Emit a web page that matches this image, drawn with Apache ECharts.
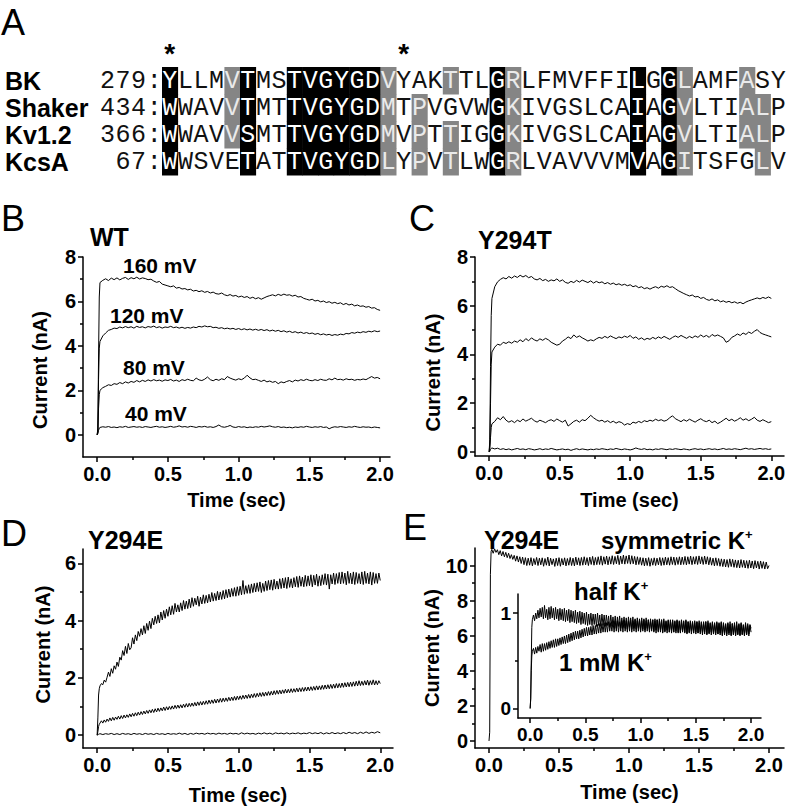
<!DOCTYPE html>
<html><head><meta charset="utf-8">
<script src="https://cdn.jsdelivr.net/npm/echarts@6/dist/echarts.min.js"></script>
<style>html,body{margin:0;padding:0;background:#fff}#c{width:796px;height:806px}</style>
</head><body><div id="c"></div>
<script>
// ---------- Panel A: alignment ----------
const seqNames = ['BK', 'Shaker', 'Kv1.2', 'KcsA'];
const seqStarts = ['279', '434', '366', ' 67'];
const seqs = [
  'YLLMVTMSTVGYGDVYAKTTLGRLFMVFFILGGLAMFASY',
  'WWAVVTMTTVGYGDMTPVGVWGKIVGSLCAIAGVLTIALP',
  'WWAVVSMTTVGYGDMVPTTIGGKIVGSLCAIAGVLTIALP',
  'WWSVETATTVGYGDLYPVTLWGRLVAVVVMVAGITSFGLV'
];
// K = identical (black), G = similar (gray), . = none
const shades = [
  'K...GK..KK' + 'KKKKG...G.' + '.KG.......' + 'K.KG...G..',
  'K...GK..KK' + 'KKKKG.G...' + '.KG.......' + 'K.KG...GG.',
  'K...GK..KK' + 'KKKKG.G.G.' + '.KG.......' + 'K.KG...GG.',
  'K....K..KK' + 'KKKKG.G.G.' + '.KG.......' + 'K.KG....G.'
];
const starCols = [0, 15];

// ---------- Traces ----------
// coarse sampling (s)
const time = [0,0.005,0.01,0.015,0.02,0.04,0.06,0.08,0.1,0.12,
0.14,0.16,0.18,0.2,0.22,0.24,0.26,0.28,0.3,0.32,
0.34,0.36,0.38,0.4,0.42,0.44,0.46,0.48,0.5,0.52,
0.54,0.56,0.58,0.6,0.62,0.64,0.66,0.68,0.7,0.72,
0.74,0.76,0.78,0.8,0.82,0.84,0.86,0.88,0.9,0.92,
0.94,0.96,0.98,1,1.02,1.04,1.06,1.08,1.1,1.12,
1.14,1.16,1.18,1.2,1.22,1.24,1.26,1.28,1.3,1.32,
1.34,1.36,1.38,1.4,1.42,1.44,1.46,1.48,1.5,1.52,
1.54,1.56,1.58,1.6,1.62,1.64,1.66,1.68,1.7,1.72,
1.74,1.76,1.78,1.8,1.82,1.84,1.86,1.88,1.9,1.92,
1.94,1.96,1.98,2];
// dense sampling (s) for the noisy Y294E recordings
const timeDense = [0,0.005,0.01,0.015,0.02,0.03,0.04,0.05,0.06,0.07,
0.08,0.09,0.1,0.11,0.12,0.13,0.14,0.15,0.16,0.17,
0.18,0.19,0.2,0.21,0.22,0.23,0.24,0.25,0.26,0.27,
0.28,0.29,0.3,0.31,0.32,0.33,0.34,0.35,0.36,0.37,
0.38,0.39,0.4,0.41,0.42,0.43,0.44,0.45,0.46,0.47,
0.48,0.49,0.5,0.51,0.52,0.53,0.54,0.55,0.56,0.57,
0.58,0.59,0.6,0.61,0.62,0.63,0.64,0.65,0.66,0.67,
0.68,0.69,0.7,0.71,0.72,0.73,0.74,0.75,0.76,0.77,
0.78,0.79,0.8,0.81,0.82,0.83,0.84,0.85,0.86,0.87,
0.88,0.89,0.9,0.91,0.92,0.93,0.94,0.95,0.96,0.97,
0.98,0.99,1,1.01,1.02,1.03,1.04,1.05,1.06,1.07,
1.08,1.09,1.1,1.11,1.12,1.13,1.14,1.15,1.16,1.17,
1.18,1.19,1.2,1.21,1.22,1.23,1.24,1.25,1.26,1.27,
1.28,1.29,1.3,1.31,1.32,1.33,1.34,1.35,1.36,1.37,
1.38,1.39,1.4,1.41,1.42,1.43,1.44,1.45,1.46,1.47,
1.48,1.49,1.5,1.51,1.52,1.53,1.54,1.55,1.56,1.57,
1.58,1.59,1.6,1.61,1.62,1.63,1.64,1.65,1.66,1.67,
1.68,1.69,1.7,1.71,1.72,1.73,1.74,1.75,1.76,1.77,
1.78,1.79,1.8,1.81,1.82,1.83,1.84,1.85,1.86,1.87,
1.88,1.89,1.9,1.91,1.92,1.93,1.94,1.95,1.96,1.97,
1.98,1.99,2];

// B: WT (nA)
const wt160 = [0,0.3,3.5,6.2,6.85,6.95,7.02,6.94,7.05,6.98,
7.06,6.97,7.04,7.08,6.99,7.07,7.02,7.09,7.01,7.06,
7.03,6.98,7.0,6.92,6.86,6.9,6.78,6.74,6.7,6.66,
6.7,6.6,6.63,6.56,6.58,6.52,6.55,6.47,6.5,6.44,
6.48,6.41,6.45,6.38,6.42,6.35,6.33,6.38,6.3,6.26,
6.31,6.24,6.27,6.2,6.24,6.18,6.22,6.14,6.19,6.12,
6.17,6.1,6.16,6.22,6.26,6.3,6.25,6.32,6.27,6.33,
6.28,6.3,6.24,6.28,6.2,6.22,6.14,6.1,6.06,6.1,
6.02,6.05,5.98,6.02,5.95,5.99,5.92,5.96,5.9,5.94,
5.86,5.91,5.84,5.88,5.8,5.84,5.78,5.8,5.74,5.77,
5.7,5.72,5.64,5.6];
const wt120 = [0,0.2,2.5,3.9,4.2,4.45,4.58,4.7,4.74,4.8,
4.78,4.85,4.81,4.87,4.82,4.86,4.8,4.88,4.83,4.86,
4.81,4.87,4.84,4.89,4.82,4.86,4.8,4.85,4.83,4.88,
4.82,4.85,4.8,4.84,4.79,4.83,4.8,4.85,4.82,4.88,
4.85,4.9,4.86,4.88,4.82,4.84,4.79,4.82,4.77,4.8,
4.76,4.79,4.74,4.78,4.73,4.77,4.72,4.76,4.71,4.75,
4.7,4.74,4.69,4.73,4.67,4.71,4.66,4.7,4.64,4.68,
4.62,4.66,4.6,4.64,4.58,4.62,4.56,4.6,4.55,4.58,
4.52,4.56,4.5,4.54,4.49,4.52,4.47,4.51,4.48,4.53,
4.5,4.56,4.54,4.6,4.57,4.62,4.59,4.64,4.61,4.66,
4.63,4.68,4.64,4.67];
const wt80 = [0,0.1,1.2,1.8,2.0,2.12,2.18,2.25,2.22,2.3,
2.27,2.35,2.3,2.38,2.33,2.4,2.36,2.44,2.38,2.45,
2.4,2.47,2.42,2.48,2.43,2.46,2.41,2.47,2.44,2.49,
2.42,2.46,2.4,2.48,2.44,2.5,2.45,2.43,2.55,2.47,
2.44,2.5,2.6,2.48,2.43,2.5,2.45,2.52,2.48,2.62,
2.55,2.5,2.46,2.52,2.48,2.55,2.68,2.56,2.48,2.5,
2.45,2.4,2.46,2.38,2.42,2.36,2.4,2.3,2.38,2.34,
2.4,2.44,2.38,2.46,2.42,2.48,2.44,2.5,2.45,2.43,
2.48,2.44,2.5,2.46,2.45,2.52,2.47,2.55,2.48,2.5,
2.46,2.52,2.48,2.5,2.45,2.49,2.47,2.51,2.48,2.55,
2.62,2.55,2.58,2.52];
const wt40 = [0,0.05,0.2,0.3,0.33,0.36,0.34,0.37,0.33,0.35,
0.32,0.36,0.34,0.38,0.33,0.35,0.37,0.34,0.36,0.33,
0.37,0.35,0.33,0.36,0.38,0.34,0.36,0.33,0.35,0.38,
0.34,0.36,0.4,0.35,0.37,0.34,0.38,0.36,0.33,0.37,
0.35,0.38,0.34,0.36,0.33,0.37,0.44,0.36,0.34,0.37,
0.42,0.35,0.33,0.37,0.34,0.36,0.32,0.35,0.33,0.36,
0.34,0.38,0.35,0.37,0.4,0.36,0.34,0.37,0.33,0.35,
0.32,0.34,0.31,0.35,0.33,0.36,0.34,0.38,0.35,0.33,
0.36,0.34,0.37,0.33,0.35,0.27,0.33,0.36,0.34,0.37,
0.35,0.33,0.36,0.34,0.38,0.35,0.33,0.36,0.34,0.35,
0.32,0.35,0.33,0.31];

// C: Y294T (nA)
const t294a = [0,0.5,3.5,5.6,6.3,6.78,6.98,7.08,7.15,7.1,
7.2,7.13,7.22,7.16,7.25,7.18,7.24,7.15,7.2,7.1,
7.06,7.12,7.03,7.08,7.0,7.06,7.02,7.1,7.0,7.06,
6.96,6.92,7.0,6.95,7.04,6.97,7.05,7.0,6.95,7.02,
6.93,7.0,6.94,6.98,6.9,6.95,6.88,6.93,6.86,6.9,
6.84,6.88,6.82,6.86,6.78,6.82,6.74,6.78,6.7,6.74,
6.68,6.74,6.78,6.72,6.8,6.76,6.82,6.75,6.78,6.7,
6.62,6.56,6.5,6.45,6.4,6.44,6.36,6.38,6.3,6.34,
6.26,6.22,6.28,6.2,6.24,6.16,6.2,6.14,6.18,6.12,
6.16,6.1,6.14,6.08,6.15,6.2,6.24,6.28,6.32,6.28,
6.34,6.3,6.36,6.3];
const t294b = [0,0.3,2.0,3.6,4.1,4.3,4.42,4.38,4.5,4.45,
4.52,4.46,4.55,4.5,4.6,4.52,4.65,4.56,4.68,4.6,
4.55,4.64,4.58,4.66,4.6,4.5,4.44,4.38,4.42,4.55,
4.62,4.72,4.65,4.8,4.7,4.76,4.68,4.62,4.55,4.6,
4.56,4.64,4.7,4.66,4.74,4.68,4.76,4.7,4.65,4.72,
4.68,4.75,4.7,4.78,4.66,4.72,4.62,4.68,4.6,4.66,
4.62,4.7,4.64,4.72,4.66,4.74,4.68,4.62,4.7,4.76,
4.7,4.78,4.72,4.66,4.74,4.68,4.76,4.7,4.8,4.72,
4.78,4.7,4.82,4.75,4.8,4.74,4.68,4.5,4.56,4.7,
4.76,4.84,4.78,4.88,4.82,4.92,4.86,4.95,5.02,4.9,
4.84,4.8,4.76,4.72];
const t294c = [0,0.1,0.6,1.0,1.15,1.25,1.4,1.32,1.45,1.3,
1.22,1.28,1.2,1.3,1.24,1.35,1.26,1.32,1.38,1.28,
1.22,1.3,1.25,1.2,1.28,1.32,1.25,1.35,1.28,1.22,
1.3,1.06,1.15,1.25,1.3,1.22,1.32,1.28,1.38,1.5,
1.4,1.32,1.26,1.3,1.22,1.28,1.2,1.26,1.18,1.24,
1.2,1.1,1.16,1.12,1.22,1.18,1.25,1.2,1.28,1.24,
1.3,1.26,1.34,1.28,1.32,1.26,1.3,1.4,1.48,1.36,
1.3,1.24,1.32,1.26,1.34,1.28,1.22,1.3,1.36,1.28,
1.24,1.3,1.2,1.26,1.16,1.22,1.3,1.38,1.28,1.34,
1.26,1.32,1.4,1.3,1.36,1.28,1.34,1.42,1.3,1.25,
1.32,1.26,1.2,1.24];
const t294d = [0,0.02,0.1,0.14,0.16,0.12,0.15,0.1,0.13,0.09,
0.12,0.08,0.11,0.14,0.1,0.12,0.09,0.13,0.11,0.08,
0.1,0.13,0.09,0.12,0.1,0.14,0.11,0.08,0.1,0.12,
0.09,0.11,0.06,0.1,0.13,0.09,0.12,0.1,0.08,0.11,
0.09,0.12,0.1,0.13,0.11,0.09,0.12,0.1,0.14,0.11,
0.09,0.12,0.1,0.08,0.11,0.16,0.12,0.1,0.13,0.09,
0.11,0.08,0.12,0.1,0.13,0.11,0.09,0.12,0.1,0.13,
0.11,0.09,0.12,0.1,0.08,0.11,0.13,0.1,0.12,0.09,
0.11,0.13,0.1,0.12,0.09,0.11,0.14,0.1,0.12,0.1,
0.13,0.11,0.09,0.12,0.15,0.11,0.13,0.1,0.12,0.14,
0.11,0.13,0.1,0.12];

// D: Y294E (nA) – dense traces use timeDense
const e294a = [0,0.6,1.4,1.62,1.72,1.8,1.76,1.92,1.85,2.02,
2.2,2.05,2.32,2.16,2.42,2.3,2.55,2.4,2.72,2.62,
2.95,2.78,3.1,2.85,3.2,2.98,3.05,3.4,3.18,3.5,
3.3,3.62,3.45,3.72,3.5,3.82,3.55,3.9,3.66,3.98,
3.72,4.08,3.85,4.15,3.9,4.2,3.92,4.3,4.02,4.35,
4.08,4.4,4.15,4.48,4.2,4.52,4.22,4.6,4.3,4.55,
4.3,4.62,4.35,4.7,4.4,4.68,4.42,4.75,4.45,4.8,
4.5,4.78,4.55,4.85,4.5,4.82,4.58,4.9,4.6,4.88,
4.62,4.92,4.65,4.98,4.68,4.95,4.7,5.02,4.72,5.0,
4.74,5.05,4.76,5.08,4.8,5.1,4.82,5.12,4.85,5.15,
4.85,5.18,4.88,5.2,4.9,5.4,4.92,5.22,4.95,5.25,
4.95,5.28,4.98,5.3,5.0,5.32,5.02,5.35,4.98,5.3,
5.02,5.38,5.05,5.4,5.08,5.42,5.06,5.44,5.1,5.38,
5.1,5.46,5.12,5.48,5.14,5.5,5.12,5.52,5.16,5.46,
5.14,5.5,5.18,5.54,5.16,5.56,5.2,5.52,5.18,5.58,
5.2,5.56,5.22,5.6,5.18,5.58,5.24,5.62,5.2,5.56,
5.22,5.6,5.26,5.64,5.24,5.62,5.1,5.6,5.28,5.66,
5.26,5.64,5.3,5.68,5.28,5.7,5.3,5.66,5.25,5.72,
5.3,5.66,5.28,5.7,5.26,5.68,5.3,5.64,5.28,5.7,
5.26,5.72,5.3,5.66,5.28,5.7,5.24,5.68,5.3,5.64,
5.3,5.66,5.4];
const e294b = [0,0.12,0.3,0.38,0.42,0.5,0.42,0.53,0.45,0.56,
0.48,0.6,0.5,0.62,0.52,0.63,0.55,0.66,0.56,0.68,
0.58,0.7,0.6,0.71,0.62,0.74,0.64,0.76,0.66,0.78,
0.68,0.8,0.7,0.82,0.72,0.84,0.74,0.86,0.76,0.88,
0.78,0.9,0.79,0.92,0.81,0.94,0.83,0.95,0.85,0.98,
0.86,0.99,0.88,1.0,0.9,1.02,0.91,1.04,0.93,1.05,
0.94,1.06,0.95,1.08,0.97,1.1,0.98,1.11,1.0,1.12,
1.01,1.14,1.02,1.16,1.04,1.17,1.05,1.18,1.07,1.2,
1.08,1.22,1.1,1.23,1.11,1.25,1.12,1.26,1.14,1.28,
1.15,1.29,1.17,1.3,1.18,1.32,1.2,1.33,1.21,1.35,
1.22,1.36,1.24,1.37,1.25,1.39,1.27,1.4,1.28,1.42,
1.29,1.43,1.31,1.45,1.32,1.46,1.34,1.48,1.35,1.49,
1.36,1.5,1.38,1.52,1.39,1.53,1.4,1.55,1.42,1.56,
1.43,1.57,1.44,1.58,1.46,1.6,1.47,1.6,1.48,1.62,
1.49,1.62,1.5,1.64,1.51,1.65,1.52,1.66,1.53,1.67,
1.54,1.68,1.55,1.69,1.56,1.7,1.57,1.72,1.58,1.72,
1.59,1.74,1.6,1.75,1.61,1.76,1.62,1.77,1.63,1.78,
1.64,1.8,1.65,1.8,1.66,1.82,1.67,1.83,1.68,1.84,
1.69,1.85,1.7,1.86,1.71,1.88,1.72,1.9,1.73,1.88,
1.74,1.9,1.75,1.92,1.74,1.9,1.76,1.93,1.75,1.9,
1.76,1.9,1.8];
const e294c = [0,0.01,0.03,0.04,0.05,0.02,0.05,0.03,0.06,0.02,
0.05,0.02,0.06,0.03,0.05,0.02,0.06,0.03,0.05,0.02,
0.06,0.03,0.05,0.02,0.06,0.03,0.05,0.02,0.06,0.03,
0.05,0.03,0.07,0.03,0.06,0.02,0.06,0.03,0.07,0.04,
0.06,0.03,0.07,0.04,0.06,0.03,0.07,0.04,0.06,0.03,
0.07,0.04,0.06,0.03,0.08,0.04,0.07,0.04,0.06,0.03,
0.07,0.04,0.08,0.04,0.07,0.03,0.08,0.05,0.07,0.04,
0.08,0.04,0.07,0.05,0.08,0.04,0.07,0.05,0.09,0.05,
0.08,0.05,0.09,0.04,0.08,0.05,0.09,0.05,0.08,0.05,
0.09,0.05,0.1,0.06,0.09,0.05,0.1,0.06,0.11,0.06,
0.1,0.07,0.12,0.08];

// E: Y294E symmetric K+ (nA, dense) and inset half / 1 mM K+ (normalized, dense)
const symK = [0,0.5,9.5,10.8,10.92,10.7,10.95,10.75,10.9,10.62,
10.85,10.55,10.8,10.5,10.75,10.45,10.7,10.4,10.62,10.35,
10.58,10.25,10.55,10.2,10.5,10.12,10.48,10.05,10.45,10.0,
10.42,10.02,10.45,9.98,10.4,10.05,10.46,10.0,10.42,10.04,
10.44,9.96,10.4,10.02,10.48,9.98,10.42,10.05,10.38,9.95,
10.42,10.0,10.45,9.96,10.4,10.03,10.44,9.98,10.4,10.02,
10.46,10.0,10.42,9.98,10.48,10.04,10.44,10.0,10.46,10.02,
10.5,10.04,10.45,10.0,10.48,10.06,10.52,10.02,10.46,10.05,
10.5,10.06,10.55,10.02,10.5,10.08,10.54,10.04,10.5,10.08,
10.56,10.06,10.52,10.1,10.58,10.05,10.54,10.1,10.6,10.08,
10.55,10.12,10.6,10.08,10.56,10.1,10.52,10.04,10.5,10.06,
10.46,10.02,10.44,9.98,10.42,10.0,10.45,9.96,10.4,10.02,
10.44,10.0,10.42,10.04,10.46,10.0,10.44,10.02,10.48,10.04,
10.45,10.02,10.5,10.06,10.48,10.02,10.46,10.06,10.5,10.04,
10.48,10.06,10.52,10.04,10.5,10.08,10.54,10.05,10.5,10.08,
10.52,10.06,10.55,10.1,10.5,10.06,10.54,10.08,10.5,10.04,
10.46,10.02,10.42,9.98,10.44,10.0,10.4,9.96,10.38,9.94,
10.36,9.92,10.34,9.9,10.38,9.94,10.35,9.9,10.32,9.88,
10.3,9.86,10.34,9.9,10.3,9.86,10.28,9.84,10.3,9.86,
10.26,9.82,10.28,9.86,10.24,9.8,10.26,9.84,10.22,9.8,
10.2,9.82,10.0];
const halfK = [0,0.1,0.5,0.85,0.93,0.98,0.92,1.0,0.94,1.03,
0.95,1.05,0.96,1.06,0.94,1.08,0.95,1.04,0.93,1.06,
0.94,1.07,0.95,1.05,0.93,1.06,0.94,1.04,0.92,1.05,
0.93,1.04,0.92,1.05,0.91,1.03,0.92,1.04,0.9,1.03,
0.91,1.02,0.9,1.03,0.89,1.01,0.9,1.02,0.88,1.01,
0.89,1.0,0.88,1.01,0.87,0.99,0.88,1.0,0.87,0.99,
0.88,0.99,0.86,1.0,0.87,0.98,0.86,0.99,0.87,0.98,
0.86,0.98,0.87,0.97,0.85,0.98,0.86,0.96,0.85,0.97,
0.84,0.96,0.86,0.97,0.84,0.95,0.85,0.96,0.84,0.95,
0.83,0.96,0.85,0.95,0.83,0.96,0.84,0.94,0.83,0.95,
0.84,0.94,0.82,0.95,0.83,0.94,0.82,0.95,0.84,0.93,
0.82,0.94,0.83,0.93,0.81,0.94,0.82,0.93,0.81,0.94,
0.82,0.93,0.8,0.94,0.81,0.92,0.82,0.93,0.8,0.92,
0.81,0.93,0.8,0.92,0.81,0.93,0.79,0.92,0.8,0.93,
0.81,0.92,0.8,0.93,0.79,0.91,0.8,0.92,0.81,0.91,
0.79,0.92,0.8,0.91,0.79,0.92,0.8,0.9,0.79,0.91,
0.8,0.91,0.78,0.92,0.79,0.9,0.8,0.91,0.78,0.9,
0.79,0.91,0.78,0.9,0.79,0.91,0.77,0.9,0.79,0.89,
0.78,0.9,0.79,0.91,0.77,0.89,0.78,0.9,0.77,0.91,
0.78,0.89,0.77,0.9,0.78,0.88,0.77,0.9,0.78,0.89,
0.78,0.88,0.84];
const oneMK = [0,0.1,0.4,0.55,0.6,0.63,0.57,0.64,0.58,0.65,
0.6,0.67,0.59,0.68,0.6,0.68,0.61,0.69,0.62,0.7,
0.63,0.71,0.64,0.72,0.64,0.73,0.65,0.73,0.66,0.74,
0.67,0.75,0.68,0.76,0.68,0.77,0.69,0.78,0.7,0.79,
0.71,0.8,0.72,0.81,0.73,0.81,0.73,0.82,0.74,0.83,
0.75,0.84,0.76,0.85,0.76,0.85,0.77,0.86,0.77,0.87,
0.78,0.87,0.78,0.88,0.79,0.89,0.79,0.89,0.8,0.9,
0.8,0.9,0.8,0.91,0.81,0.9,0.81,0.91,0.8,0.92,
0.81,0.92,0.8,0.91,0.81,0.92,0.8,0.93,0.81,0.92,
0.8,0.92,0.81,0.93,0.8,0.92,0.81,0.93,0.8,0.92,
0.81,0.93,0.8,0.92,0.81,0.93,0.8,0.92,0.81,0.93,
0.8,0.92,0.81,0.93,0.8,0.92,0.79,0.93,0.8,0.92,
0.8,0.93,0.79,0.92,0.8,0.91,0.79,0.92,0.8,0.93,
0.79,0.92,0.8,0.91,0.79,0.92,0.8,0.91,0.79,0.92,
0.8,0.91,0.79,0.92,0.78,0.91,0.79,0.9,0.78,0.91,
0.79,0.9,0.78,0.91,0.79,0.9,0.78,0.91,0.77,0.9,
0.78,0.91,0.77,0.9,0.78,0.89,0.77,0.9,0.78,0.89,
0.77,0.9,0.78,0.89,0.77,0.9,0.76,0.89,0.77,0.88,
0.76,0.89,0.77,0.88,0.76,0.89,0.77,0.88,0.76,0.87,
0.77,0.88,0.76,0.89,0.77,0.87,0.76,0.88,0.77,0.87,
0.76,0.87,0.8];

const xTicks = [0, 0.5, 1, 1.5, 2];
const xMinorTicks = [0.25, 0.75, 1.25, 1.75];

// ---------- Build ----------
const SANS = '"Liberation Sans", Arial, Helvetica, sans-serif';
const MONO = '"Liberation Mono", "Courier New", monospace';

const cellPos = [], cellChar = [], cellShade = [];
seqs.forEach((s, r) => {
  for (let c = 0; c < s.length; c++) {
    cellPos.push([c, r]); cellChar.push(s[c]); cellShade.push(shades[r][c]);
  }
});

const panels = [
  {grid:{left:83, top:257, width:307, height:200}, x:[-0.1, 2.07], y:[-1, 8],
   yMaj:[0,2,4,6,8], yMin:[1,3,5,7], fs:20, xGap:33, yGap:33, yPad:[0,26,0,0],
   series:[[time, wt160], [time, wt120], [time, wt80], [time, wt40]], lw:1},
  {grid:{left:475, top:257, width:309, height:199}, x:[-0.1, 2.09], y:[-0.17, 8],
   yMaj:[0,2,4,6,8], yMin:[1,3,5,7], fs:20, xGap:34, yGap:32, yPad:[0,32,0,0],
   series:[[time, t294a], [time, t294b], [time, t294c], [time, t294d]], lw:1},
  {grid:{left:83, top:549, width:310, height:199}, x:[-0.1, 2.09], y:[-0.45, 6.5],
   yMaj:[0,2,4,6], yMin:[1,3,5], fs:20, xGap:37, yGap:30, yPad:[0,0,0,8],
   series:[[timeDense, e294a], [timeDense, e294b], [time, e294c]], lw:1},
  {grid:{left:475, top:548, width:309, height:200}, x:[-0.1, 2.107], y:[-0.4, 11],
   yMaj:[0,2,4,6,8,10], yMin:[1,3,5,7,9], fs:20, xGap:34, yGap:28, yPad:[0,0,0,0],
   series:[[timeDense, symK]], lw:1},
  {grid:{left:518, top:594, width:243, height:124}, x:[-0.11, 2.09], y:[-0.1, 1.2],
   yMaj:[0,1], yMin:[0.5], fs:19, xGap:0, yGap:0, yPad:null,
   series:[[timeDense, halfK], [timeDense, oneMK]], lw:1}
];

const grids = [{left:162, top:67, width:624, height:108}];
const xAxes = [{type:'value', gridIndex:0, min:0, max:40, show:false}];
const yAxes = [{type:'value', gridIndex:0, min:0, max:4, inverse:true, show:false}];
const series = [];
const line = {color:'#000', width:1.5};

panels.forEach((p, i) => {
  const gi = i + 1;
  grids.push(Object.assign({outerBoundsMode:'none', containLabel:false}, p.grid));
  const named = p.yPad !== null;
  xAxes.push({type:'value', gridIndex:gi, min:p.x[0], max:p.x[1], position:'bottom',
    axisLine:{show:true, onZero:false, lineStyle:line},
    axisTick:{show:true, customValues:xTicks, length:5, lineStyle:line},
    axisLabel:{show:true, customValues:xTicks, formatter:v => v.toFixed(1), color:'#000',
      fontSize:p.fs, fontWeight:'bold', fontFamily:SANS, margin:7},
    splitLine:{show:false},
    name: named ? 'Time (sec)' : '', nameLocation:'middle', nameGap:p.xGap,
    nameTextStyle:{color:'#000', fontSize:20, fontWeight:'bold', fontFamily:SANS}});
  const xMainIdx = xAxes.length - 1;
  xAxes.push({type:'value', gridIndex:gi, min:p.x[0], max:p.x[1], position:'bottom',
    axisLine:{show:false, onZero:false}, axisTick:{show:true, customValues:xMinorTicks, length:3, lineStyle:line},
    axisLabel:{show:false}, splitLine:{show:false}});
  yAxes.push({type:'value', gridIndex:gi, min:p.y[0], max:p.y[1], position:'left',
    axisLine:{show:true, onZero:false, lineStyle:line},
    axisTick:{show:true, customValues:p.yMaj, length:5, lineStyle:line},
    axisLabel:{show:true, customValues:p.yMaj, formatter:v => String(Math.round(v)), color:'#000',
      fontSize:p.fs, fontWeight:'bold', fontFamily:SANS, margin:7},
    splitLine:{show:false},
    name: named ? 'Current (nA)' : '', nameLocation:'middle', nameGap:p.yGap,
    nameTextStyle:{color:'#000', fontSize:20, fontWeight:'bold', fontFamily:SANS, padding:p.yPad || 0}});
  const yMainIdx = yAxes.length - 1;
  yAxes.push({type:'value', gridIndex:gi, min:p.y[0], max:p.y[1], position:'left',
    axisLine:{show:false, onZero:false}, axisTick:{show:true, customValues:p.yMin, length:3, lineStyle:line},
    axisLabel:{show:false}, splitLine:{show:false}});
  p.series.forEach(([tArr, arr]) => {
    series.push({type:'line', xAxisIndex:xMainIdx, yAxisIndex:yMainIdx, showSymbol:false, symbol:'none',
      silent:true, lineStyle:{color:'#000', width:p.lw}, data: tArr.map((t, k) => [t, arr[k]])});
  });
});

// alignment cells
series.push({type:'custom', xAxisIndex:0, yAxisIndex:0, clip:false, silent:true,
  data: cellPos,
  renderItem(params, api) {
    const c = api.value(0), r = api.value(1);
    const p0 = api.coord([c, r]), p1 = api.coord([c + 1, r + 1]);
    const sh = cellShade[params.dataIndex], ch = cellChar[params.dataIndex];
    const kids = [];
    if (sh !== '.') kids.push({type:'rect', shape:{x:p0[0], y:p0[1], width:p1[0]-p0[0]+0.5, height:p1[1]-p0[1]+0.5},
      style:{fill: sh === 'K' ? '#000' : '#858585'}});
    kids.push({type:'text', style:{x:(p0[0]+p1[0])/2, y:(p0[1]+p1[1])/2 + 1, text:ch,
      fill: sh === '.' ? '#111' : (sh === 'K' ? '#fff' : '#eaeaea'),
      fontSize:25, fontFamily:MONO, align:'center', verticalAlign:'middle'}});
    return {type:'group', children:kids};
  }});
// row names and start numbers
series.push({type:'custom', xAxisIndex:0, yAxisIndex:0, clip:false, silent:true,
  data: seqNames.map((n, r) => [0, r]),
  renderItem(params, api) {
    const r = api.value(1), i = params.dataIndex;
    const p0 = api.coord([0, r]), p1 = api.coord([1, r + 1]);
    const cy = (p0[1] + p1[1]) / 2;
    const cw = p1[0] - p0[0];
    const kids = [{type:'text', style:{x:5, y:cy, text:seqNames[i], fill:'#000', fontSize:25,
      fontWeight:'bold', fontFamily:SANS, align:'left', verticalAlign:'middle'}}];
    const s = seqStarts[i] + ':';
    for (let j = 0; j < s.length; j++) {
      kids.push({type:'text', style:{x:p0[0] + (j - 4 + 0.5) * cw, y:cy + 1, text:s[j], fill:'#111',
        fontSize:25, fontFamily:MONO, align:'center', verticalAlign:'middle'}});
    }
    return {type:'group', children:kids};
  }});
// asterisks
series.push({type:'custom', xAxisIndex:0, yAxisIndex:0, clip:false, silent:true,
  data: starCols.map(c => [c, 0]),
  renderItem(params, api) {
    const p0 = api.coord([api.value(0) + 0.5, 0]);
    return {type:'text', style:{x:p0[0], y:p0[1] - 14, text:'*', fill:'#000', fontSize:28,
      fontWeight:'bold', fontFamily:SANS, align:'center', verticalAlign:'middle'}};
  }});

function txt(x, y, s, size, bold, extra) {
  return {type:'text', x, y, silent:true, style:Object.assign({text:s, fill:'#000', fontSize:size,
    fontWeight: bold ? 'bold' : 'normal', fontFamily:SANS, align:'left', verticalAlign:'middle'}, extra || {})};
}
const sup = {rich:{s:{fontSize:13, fontWeight:'bold', fontFamily:SANS, verticalAlign:'top', fill:'#000'},
                   n:{fontSize:24, fontWeight:'bold', fontFamily:SANS, fill:'#000'}}};
const graphic = [
  txt(1, 22, 'A', 36, false),
  txt(1, 218, 'B', 36, false),
  txt(409, 218, 'C', 36, false),
  txt(1, 533, 'D', 36, false),
  txt(403, 527, 'E', 36, false),
  txt(90, 237, 'WT', 25, true),
  txt(478, 240, 'Y294T', 25, true),
  txt(88, 540, 'Y294E', 25, true),
  txt(484, 540, 'Y294E', 25, true),
  txt(123, 265, '160 mV', 21, true),
  txt(110, 315, '120 mV', 21, true),
  txt(123, 367, '80 mV', 21, true),
  txt(125, 413, '40 mV', 21, true),
  txt(601, 540, '{n|symmetric K}{s|+}', 24, true, sup),
  txt(574, 591, '{n|half K}{s|+}', 24, true, sup),
  txt(559, 662, '{n|1 mM K}{s|+}', 24, true, sup)
];

const chart = echarts.init(document.getElementById('c'), null, {renderer:'svg', width:796, height:806});
chart.setOption({animation:false, backgroundColor:'#fff', grid:grids, xAxis:xAxes, yAxis:yAxes,
  series, graphic});
</script></body></html>
